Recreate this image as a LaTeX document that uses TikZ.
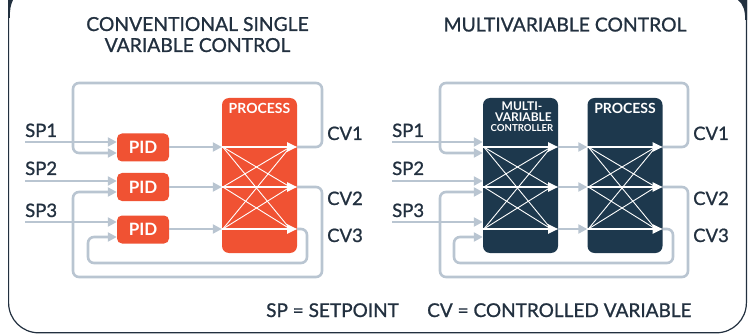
\documentclass[tikz,border=0pt]{standalone}
\usepackage{fontspec}
\setmainfont{Lato}
\newfontfamily\labelfont{Lato}[FakeBold=1.0]
\usetikzlibrary{arrows.meta,calc}
\definecolor{ink}{HTML}{22303F}
\definecolor{orangebox}{HTML}{F05233}
\definecolor{navybox}{HTML}{1D384D}
\definecolor{wire}{HTML}{B9C5D1}

\begin{document}
\begin{tikzpicture}[x=1pt,y=-1pt,
  wirestyle/.style={draw=wire, line width=2.6pt, rounded corners=6pt},
  grarrow/.style={wirestyle, -{Triangle[length=9pt,width=9pt]}},
  whitemain/.style={draw=white, line width=2pt, -{Triangle[length=10pt,width=9pt]}},
  whitecross/.style={draw=white, line width=0.9pt},
  pidbox/.style={fill=orangebox, rounded corners=5pt, minimum width=52pt,
    minimum height=28pt, inner sep=0pt, text=white,
    font=\bfseries\fontsize{17}{17}\selectfont},
  bigbox/.style={rounded corners=7pt, minimum width=75pt, minimum height=155pt, inner sep=0pt},
  boxtitle/.style={text=white, inner sep=0pt, anchor=base, text depth=0pt,
    font=\bfseries\fontsize{14}{14}\selectfont},
  sig/.style={text=ink, inner sep=0pt, anchor=base west, font=\labelfont\fontsize{18.5}{20}\selectfont},
  heading/.style={text=ink, inner sep=0pt, anchor=base, font=\labelfont\fontsize{19.3}{21}\selectfont},
  legend/.style={text=ink, inner sep=0pt, anchor=base west, font=\labelfont\fontsize{19}{21}\selectfont},
]
\useasboundingbox (0,0) rectangle (750,334);
\clip (0,0) rectangle (750,334);

% outer frame
\draw[ink, line width=1.2pt, rounded corners=30pt] (8.6,-60) rectangle (746.4,332.8);
\fill[ink] (8,0) -- (13,0) .. controls (10.5,5) and (9.8,10) .. (9.8,18) -- (8,18) -- cycle;
\fill[ink] (738,0) -- (747,0) -- (747,20) -- (745.2,20) .. controls (745.2,10) and (743,4) .. (738,0) -- cycle;

% headings
\node[heading] (h1a) at (197.5,31) {CONVENTIONAL SINGLE};
\node[heading] (h1b) at (197.5,52) {VARIABLE CONTROL};
\node[heading] (h2) at (565,31.5) {MULTIVARIABLE CONTROL};

% row levels
\foreach \i/\y in {1/147,2/187,3/229} { \coordinate (row\i) at (0,\y); }
\foreach \i/\y in {1/142,2/181,3/222} { \coordinate (sprow\i) at (0,\y); }
\foreach \i/\y in {1/153,2/192,3/237} { \coordinate (fbrow\i) at (0,\y); }

% ===================== single variable control =====================
\node[pidbox] (pid1) at (143,147.5) {PID};
\node[pidbox] (pid2) at (143,187) {PID};
\node[pidbox] (pid3) at (143,229.5) {PID};
\node[bigbox, fill=orangebox] (procA) at (259.5,175.5) {};
\node[boxtitle] (procAt) at (259.5,113.5) {PROCESS};

\foreach \i in {1,2,3} {
  \coordinate (ain\i) at (procA.west |- row\i);
  \coordinate (aout\i) at (procA.east |- row\i);
}
\foreach \i in {1,2,3} { \foreach \j in {1,2,3} {
  \ifnum\i=\j\else \draw[whitecross] ($(ain\i)+(1,0)$) -- ($(aout\j)+(-7,0)$); \fi
}}
\foreach \i in {1,2,3} { \draw[whitemain] (ain\i) -- (aout\i); }

% setpoints
\node[sig] (spA1) at (25,137) {SP1};
\node[sig] (spA2) at (25,175) {SP2};
\node[sig] (spA3) at (25,217) {SP3};
\foreach \i in {1,2,3} {
  \draw[grarrow] (spA\i.west |- sprow\i) -- (pid\i.west |- sprow\i);
  \draw[grarrow] (pid\i.east |- row\i) -- (ain\i);
}

% feedback loops
\coordinate (aR1) at (322,83);  \coordinate (aL1) at (73,83);
\coordinate (aR2) at (322,277); \coordinate (aL2) at (73,277);
\coordinate (aR3) at (307,263); \coordinate (aL3) at (88,263);
\foreach \i in {1,2,3} {
  \draw[grarrow] (aout\i) -- (aout\i -| aR\i) -- (aR\i) -- (aL\i) -- (aL\i |- fbrow\i) -- (pid\i.west |- fbrow\i);
}
\node[sig] (cvA1) at (327,140) {CV1};
\node[sig] (cvA2) at (327,205) {CV2};
\node[sig] (cvA3) at (327,242) {CV3};

% ===================== multivariable control =====================
\node[bigbox, fill=navybox] (ctrl) at (520.5,175.5) {};
\node[bigbox, fill=navybox] (procB) at (625,175.5) {};
\node[boxtitle, text height=8.7pt, font=\bfseries\fontsize{12}{12}\selectfont] (ctrlt1) at (522,111) {MULTI-};
\node[boxtitle, text height=8.7pt, font=\bfseries\fontsize{12}{12}\selectfont] (ctrlt2) at (523.5,122) {VARIABLE};
\node[boxtitle, text height=6.8pt, font=\bfseries\fontsize{9.6}{9.6}\selectfont] (ctrlt3) at (522,131.3) {CONTROLLER};
\node[boxtitle] (procBt) at (625,113.5) {PROCESS};

\foreach \i in {1,2,3} {
  \coordinate (cin\i) at (ctrl.west |- row\i);
  \coordinate (cout\i) at (ctrl.east |- row\i);
  \coordinate (bin\i) at (procB.west |- row\i);
  \coordinate (bout\i) at (procB.east |- row\i);
}
\foreach \i in {1,2,3} { \foreach \j in {1,2,3} {
  \ifnum\i=\j\else
    \draw[whitecross] ($(cin\i)+(1,0)$) -- ($(cout\j)+(-7,0)$);
    \draw[whitecross] ($(bin\i)+(1,0)$) -- ($(bout\j)+(-7,0)$);
  \fi
}}
\foreach \i in {1,2,3} {
  \draw[whitemain] (cin\i) -- (cout\i);
  \draw[whitemain] (bin\i) -- (bout\i);
  \draw[grarrow] (cout\i) -- (bin\i);
}

\node[sig] (spB1) at (392,137) {SP1};
\node[sig] (spB2) at (392,175) {SP2};
\node[sig] (spB3) at (392,217) {SP3};
\foreach \i in {1,2,3} {
  \draw[grarrow] (spB\i.west |- sprow\i) -- (ctrl.west |- sprow\i);
}

\coordinate (bR1) at (688,83);  \coordinate (bL1) at (440,83);
\coordinate (bR2) at (688,277); \coordinate (bL2) at (440,277);
\coordinate (bR3) at (673,263); \coordinate (bL3) at (454,263);
\foreach \i in {1,2,3} {
  \draw[grarrow] (bout\i) -- (bout\i -| bR\i) -- (bR\i) -- (bL\i) -- (bL\i |- fbrow\i) -- (ctrl.west |- fbrow\i);
}
\node[sig] (cvB1) at (693,140) {CV1};
\node[sig] (cvB2) at (693,205) {CV2};
\node[sig] (cvB3) at (693,242) {CV3};

% legend
\node[legend] (legsp) at (266,317) {SP = SETPOINT};
\node[legend] (legcv) at (427,317) {CV = CONTROLLED VARIABLE};
\end{tikzpicture}
\end{document}
